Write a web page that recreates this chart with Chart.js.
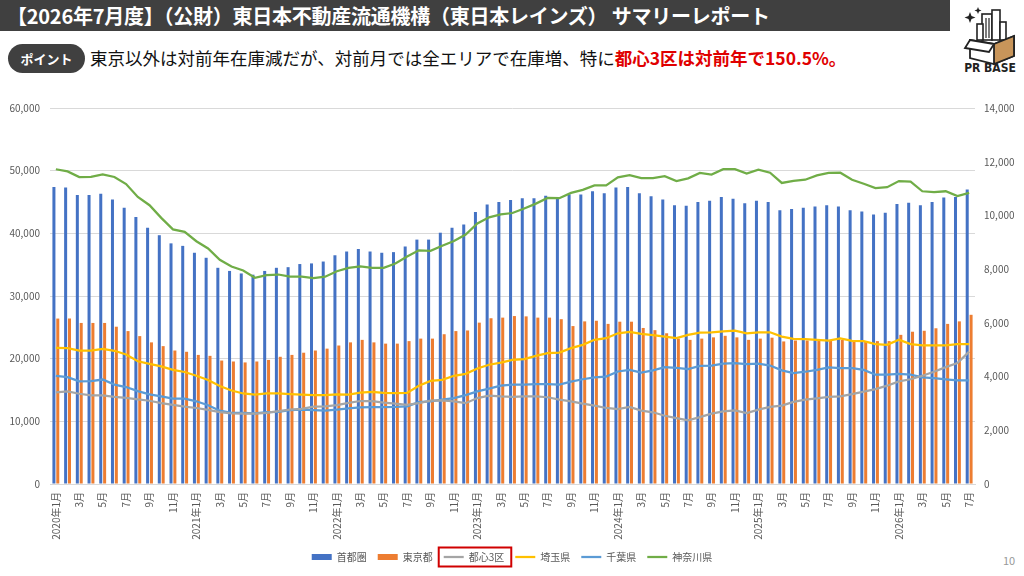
<!DOCTYPE html>
<html><head><meta charset="utf-8">
<script src="https://cdn.jsdelivr.net/npm/chart.js@4.4.1/dist/chart.umd.min.js"></script>
<style>
html,body{margin:0;padding:0;background:#fff;}
body{width:1024px;height:576px;position:relative;overflow:hidden;font-family:'Noto Sans CJK JP','Noto Sans',sans-serif;}
#titlebar{position:absolute;left:0;top:0;width:950px;height:31px;background:#404040;color:#fff;font-weight:bold;font-size:20px;line-height:31px;padding-left:7px;box-sizing:border-box;white-space:nowrap;letter-spacing:-0.25px;}
#pill{position:absolute;left:8px;top:44px;width:77px;height:29px;border-radius:15px;background:#404040;color:#fff;font-weight:bold;font-size:13px;line-height:29px;text-align:center;}
#point{position:absolute;left:90px;top:43px;height:29px;line-height:29px;font-size:17.5px;color:#111;white-space:nowrap;}
#point .red{color:#E00000;font-weight:bold;}
#page{position:absolute;left:1003px;top:552px;font-size:11px;color:#999;}
#wrap{position:absolute;left:0;top:92px;width:1024px;height:484px;}
#logo{position:absolute;left:952px;top:2px;}
</style></head>
<body>
<div id="titlebar">【2026年7月度】（公財）東日本不動産流通機構（東日本レインズ） サマリーレポート</div>
<div id="pill">ポイント</div>
<div id="point">東京以外は対前年在庫減だが、対前月では全エリアで在庫増、特に<span class="red">都心3区は対前年で150.5%。</span></div>
<svg id="logo" width="72" height="72" viewBox="0 0 72 72">
  <path d="M18 10 l1.5 4 4 1.5 -4 1.5 -1.5 4 -1.5 -4 -4 -1.5 4 -1.5z" fill="#222"/>
  <path d="M26 5 l1 2.5 2.5 1 -2.5 1 -1 2.5 -1 -2.5 -2.5 -1 2.5 -1z" fill="#222"/>
  <rect x="30" y="12" width="10" height="26" fill="#fff" stroke="#222" stroke-width="1.6"/>
  <rect x="40" y="8" width="8" height="30" fill="#fff" stroke="#222" stroke-width="1.6"/>
  <rect x="25" y="22" width="6" height="16" fill="#fff" stroke="#222" stroke-width="1.6"/>
  <line x1="34" y1="16" x2="34" y2="36" stroke="#222" stroke-width="1.2"/>
  <line x1="37" y1="16" x2="37" y2="36" stroke="#222" stroke-width="1.2"/>
  <rect x="48" y="20" width="6" height="18" fill="#fff" stroke="#222" stroke-width="1.6"/>
  <path d="M18 38 L42 42 L62 34 L62 54 L42 62 L18 56 Z" fill="#fff" stroke="#222" stroke-width="1.8"/>
  <path d="M42 42 L62 34 L62 54 L42 62 Z" fill="#C8955A" stroke="#222" stroke-width="1.8"/>
  <path d="M18 38 L13 46 L37 50 L42 42 Z" fill="#fff" stroke="#222" stroke-width="1.8"/>
  <text x="38" y="70" font-size="12" font-weight="bold" text-anchor="middle" fill="#222" font-family="'DejaVu Sans Condensed','DejaVu Sans',sans-serif">PR BASE</text>
</svg>
<div id="page">10</div>
<div id="wrap"><canvas id="c" width="1024" height="484"></canvas></div>
<script>
const years = [2020, 2021, 2022, 2023, 2024, 2025, 2026];
const monthsPerYear = [12, 12, 12, 12, 12, 12, 7];

// 首都圏 (bar, left axis)
const shutoken = [
  47400, 47300, 46100, 46100, 46300, 45400, 44100, 42600, 40900, 39700, 38400, 38000,
  36900, 36100, 34500, 34000, 33600, 33400, 34000, 34500, 34600, 35100, 35200, 35500,
  36500, 37100, 37500, 37100, 36900, 37000, 37900, 39000, 39000, 40100, 40900, 41400,
  43400, 44600, 45000, 45300, 45600, 45600, 46000, 45700, 46200, 46200, 46700, 46400,
  47300, 47400, 46400, 45900, 45400, 44500, 44400, 45000, 45200, 45800, 45500, 44800,
  45200, 45000, 43700, 43900, 44100, 44300, 44500, 44300, 43700, 43500, 43000, 43300,
  44700, 44900, 44500, 45000, 45700, 45800, 47000
];
// 東京都 (bar, left axis)
const tokyo = [
  26400, 26400, 25700, 25700, 25700, 25100, 24400, 23600, 22600, 22000, 21300, 21100,
  20600, 20450, 19700, 19550, 19400, 19550, 19800, 20300, 20600, 20950, 21300, 21600,
  22100, 22600, 23000, 22600, 22400, 22400, 22800, 23200, 23200, 23900, 24400, 24500,
  25750, 26450, 26550, 26800, 26750, 26550, 26550, 26300, 25200, 25950, 26050, 25550,
  25900, 25900, 24900, 24550, 24050, 23200, 23000, 23200, 23400, 23650, 23400, 23000,
  23200, 23350, 22750, 22900, 22900, 23000, 22850, 23000, 22700, 22700, 22800, 22800,
  23800, 24300, 24450, 24850, 25550, 25950, 27000
];
// 都心3区 (line, right axis)
const toshin3 = [
  3410, 3450, 3360, 3300, 3300, 3240, 3210, 3150, 3100, 3010, 2950, 2880,
  2830, 2760, 2680, 2630, 2620, 2620, 2650, 2710, 2770, 2800, 2880, 2890,
  2940, 3020, 3090, 3090, 3030, 2990, 2950, 3010, 3100, 3110, 3080, 3010,
  3200, 3290, 3260, 3240, 3260, 3260, 3230, 3140, 3080, 2990, 2920, 2830,
  2790, 2870, 2730, 2670, 2540, 2450, 2370, 2490, 2620, 2700, 2740, 2640,
  2770, 2870, 2920, 3060, 3140, 3190, 3240, 3260, 3350, 3440, 3530, 3660,
  3820, 3900, 4030, 4180, 4350, 4500, 4930
];
// 埼玉県 (line, right axis)
const saitama = [
  5070, 5060, 4970, 4970, 5030, 4960, 4820, 4570, 4470, 4380, 4250, 4170,
  4030, 3870, 3650, 3480, 3370, 3330, 3370, 3370, 3350, 3330, 3310, 3310,
  3340, 3330, 3400, 3430, 3390, 3380, 3390, 3660, 3840, 3880, 4030, 4100,
  4300, 4440, 4520, 4620, 4650, 4770, 4870, 4890, 5060, 5180, 5370, 5430,
  5610, 5660, 5590, 5540, 5490, 5430, 5550, 5640, 5650, 5680, 5710, 5610,
  5650, 5650, 5490, 5400, 5390, 5370, 5340, 5420, 5330, 5320, 5210, 5180,
  5370, 5210, 5160, 5160, 5160, 5210, 5210
];
// 千葉県 (line, right axis)
const chiba = [
  4030, 3980, 3820, 3830, 3890, 3700, 3610, 3460, 3340, 3260, 3175, 3175,
  3080, 2930, 2730, 2650, 2650, 2630, 2680, 2690, 2750, 2770, 2750, 2730,
  2770, 2820, 2850, 2860, 2860, 2870, 2890, 3050, 3080, 3140, 3200, 3310,
  3450, 3550, 3660, 3700, 3700, 3720, 3720, 3700, 3810, 3900, 3970, 4000,
  4190, 4250, 4150, 4230, 4350, 4320, 4280, 4400, 4410, 4480, 4500, 4460,
  4480, 4410, 4230, 4130, 4180, 4250, 4340, 4310, 4310, 4250, 4070, 4070,
  4100, 4070, 3970, 3940, 3900, 3860, 3860
];
// 神奈川県 (line, right axis)
const kanagawa = [
  11720, 11640, 11430, 11440, 11530, 11430, 11170, 10690, 10380, 9910, 9480, 9390,
  9040, 8770, 8350, 8100, 7950, 7680, 7780, 7800, 7720, 7720, 7670, 7720,
  7920, 8050, 8100, 8050, 8050, 8210, 8470, 8700, 8680, 8870, 9050, 9290,
  9700, 9930, 10040, 10090, 10260, 10440, 10650, 10640, 10840, 10950, 11120, 11120,
  11420, 11500, 11390, 11390, 11460, 11280, 11380, 11580, 11520, 11720, 11720, 11560,
  11700, 11590, 11210, 11290, 11330, 11490, 11580, 11590, 11330, 11180, 11020, 11050,
  11280, 11260, 10900, 10870, 10900, 10720, 10840
];

const leftTicks = {min: 0, max: 60000, step: 10000};
const rightTicks = {min: 0, max: 14000, step: 2000};

const labels = [];
years.forEach((y, yi) => {
  for (let m = 1; m <= monthsPerYear[yi]; m++) {
    labels.push(m === 1 ? y + '年1月' : m + '月');
  }
});

const FONT = "'Noto Sans CJK JP','Noto Sans',sans-serif";
const TICK_COLOR = '#595959';
const fmt = v => v.toLocaleString('en-US');

const lineDs = (label, data, color) => ({
  type: 'line', label, data, borderColor: color, backgroundColor: color,
  borderWidth: 2.25, pointRadius: 0, tension: 0, yAxisID: 'y2', order: 0
});

const redBoxPlugin = {
  id: 'redBox',
  afterDraw(chart) {
    const hb = chart.legend && chart.legend.legendHitBoxes && chart.legend.legendHitBoxes[2];
    if (!hb) return;
    const ctx = chart.ctx;
    ctx.save();
    ctx.strokeStyle = '#D00000';
    ctx.lineWidth = 2;
    ctx.strokeRect(hb.left - 5, hb.top - 4.5, hb.width + 12, hb.height + 9);
    ctx.restore();
  }
};

new Chart(document.getElementById('c'), {
  data: {
    labels,
    datasets: [
      {type: 'bar', label: '首都圏', data: shutoken, backgroundColor: '#4472C4', yAxisID: 'y', order: 1,
       categoryPercentage: 0.66, barPercentage: 0.78},
      {type: 'bar', label: '東京都', data: tokyo, backgroundColor: '#ED7D31', yAxisID: 'y', order: 1,
       categoryPercentage: 0.66, barPercentage: 0.78},
      lineDs('都心3区', toshin3, '#A5A5A5'),
      lineDs('埼玉県', saitama, '#FFC000'),
      lineDs('千葉県', chiba, '#5B9BD5'),
      lineDs('神奈川県', kanagawa, '#70AD47')
    ]
  },
  options: {
    responsive: false,
    animation: false,
    layout: {padding: {top: 10, bottom: 4, left: 0, right: 0}},
    plugins: {
      tooltip: {enabled: false},
      legend: {
        position: 'bottom',
        labels: {
          font: {family: FONT, size: 10},
          color: TICK_COLOR,
          usePointStyle: true,
          pointStyleWidth: 20,
          boxHeight: 6,
          boxWidth: 20,
          padding: 11,
          generateLabels(chart) {
            return chart.data.datasets.map((ds, i) => ({
              text: ds.label,
              fillStyle: ds.backgroundColor,
              strokeStyle: ds.type === 'bar' ? ds.backgroundColor : ds.borderColor,
              lineWidth: ds.type === 'bar' ? 0 : 2.25,
              pointStyle: ds.type === 'bar' ? 'rect' : 'line',
              hidden: false,
              datasetIndex: i,
              fontColor: TICK_COLOR
            }));
          }
        }
      }
    },
    scales: {
      x: {
        grid: {display: false, drawTicks: false},
        border: {display: true, color: '#D9D9D9'},
        ticks: {
          autoSkip: false, minRotation: 90, maxRotation: 90, padding: 8,
          font: {family: FONT, size: 10}, color: TICK_COLOR,
          callback: function (v, i) { return i % 2 === 0 ? this.getLabelForValue(v) : ''; }
        },
        afterFit(s) { s.height = 57; }
      },
      y: {
        position: 'left', min: leftTicks.min, max: leftTicks.max,
        grid: {color: '#D9D9D9', drawTicks: false},
        border: {display: false},
        ticks: {stepSize: leftTicks.step, padding: 10, font: {family: FONT, size: 10}, color: TICK_COLOR, callback: v => fmt(v)},
        afterFit(s) { s.width = 50; }
      },
      y2: {
        position: 'right', min: rightTicks.min, max: rightTicks.max,
        grid: {display: false, drawTicks: false},
        border: {display: false},
        ticks: {stepSize: rightTicks.step, padding: 9, font: {family: FONT, size: 10}, color: TICK_COLOR, callback: v => fmt(v)},
        afterFit(s) { s.width = 49; }
      }
    }
  },
  plugins: [redBoxPlugin]
});
</script>
</body></html>
